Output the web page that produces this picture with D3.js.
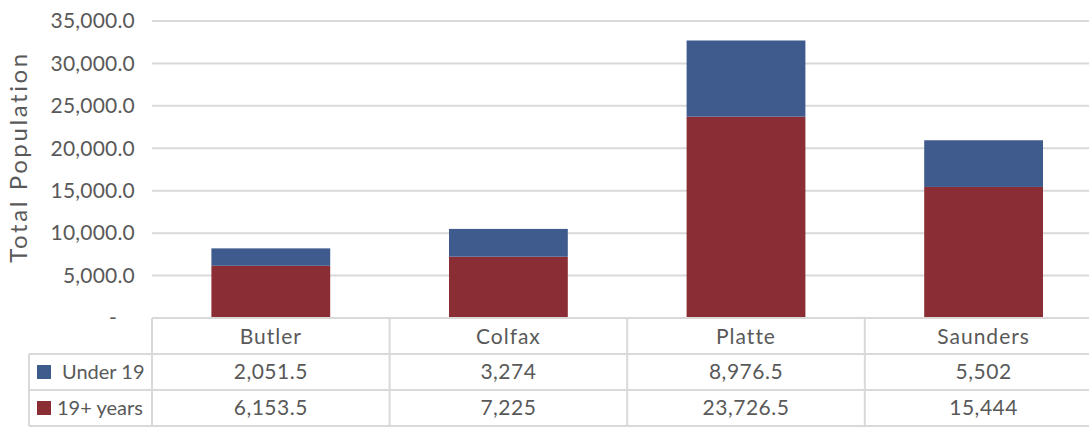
<!DOCTYPE html>
<html>
<head>
<meta charset="utf-8">
<script src="https://cdn.jsdelivr.net/npm/d3@7/dist/d3.min.js"></script>
<style>
	body { margin: 0; background: #fff; }
	text { font-family: Lato, 'Open Sans', sans-serif; fill: #595959; }
</style>
</head>
<body>
<div id="chart"></div>
<script>
var counties = ['Butler', 'Colfax', 'Platte', 'Saunders'];
var under19 = [2051.5, 3274, 8976.5, 5502];
var adults = [6153.5, 7225, 23726.5, 15444];
var yTicks = [0, 5000, 10000, 15000, 20000, 25000, 30000, 35000];
var seriesNames = ['Under 19', '19+ years'];
var colors = ['#3F5A8C', '#8B2D34'];

var width = 1089, height = 427;
var left = 152, colW = 237.6;
var plotTop = 21, base = 318, rowH = 36;

var svg = d3.select('#chart').append('svg')
	.attr('width', width)
	.attr('height', height);

var x = d3.scaleBand().domain(counties).range([left, left + colW * counties.length]).paddingInner(0.5).paddingOuter(0.25);
var y = d3.scaleLinear().domain([0, 35000]).range([base, plotTop]);

// gridlines
svg.append('g').selectAll('line').data(yTicks.slice(1)).enter().append('line')
	.attr('x1', left).attr('x2', width)
	.attr('y1', function(d) { return y(d); }).attr('y2', function(d) { return y(d); })
	.style('stroke', '#d9d9d9').style('stroke-width', 2);

// y tick labels
var fmt = d3.format(',.1f');
svg.append('g').selectAll('text').data(yTicks).enter().append('text')
	.attr('x', function(d) { return d ? 135 : 117; })
	.attr('y', function(d) { return y(d); })
	.attr('dy', '0.35em')
	.attr('text-anchor', 'end')
	.style('font-size', '21px')
	.style('letter-spacing', '0.2px')
	.text(function(d) { return d ? fmt(d) : '-'; });

svg.append('text')
	.attr('transform', 'translate(27,157) rotate(-90)')
	.attr('text-anchor', 'middle')
	.style('font-size', '24px')
	.style('letter-spacing', '2.6px')
	.text('Total Population');

// stacked bars
var rows = counties.map(function(c, i) { return { county: c, adults: adults[i], under19: under19[i] }; });
var stack = d3.stack().keys(['adults', 'under19'])(rows);
var stackColors = [colors[1], colors[0]];

svg.append('g').selectAll('g').data(stack).enter().append('g')
	.style('fill', function(d, i) { return stackColors[i]; })
	.selectAll('rect').data(function(d) { return d; }).enter().append('rect')
	.attr('x', function(d) { return x(d.data.county); })
	.attr('width', x.bandwidth())
	.attr('y', function(d) { return y(d[1]); })
	.attr('height', function(d) { return y(d[0]) - y(d[1]); });

// data table
var grid = svg.append('g').style('stroke', '#d9d9d9').style('stroke-width', 2);
var tableRight = left + colW * counties.length;
grid.append('line').attr('x1', left).attr('x2', tableRight).attr('y1', base).attr('y2', base);
[1, 2, 3].forEach(function(r) {
	grid.append('line').attr('x1', 29).attr('x2', tableRight).attr('y1', base + r * rowH).attr('y2', base + r * rowH);
});
grid.append('line').attr('x1', 29).attr('x2', 29).attr('y1', base + rowH).attr('y2', base + 3 * rowH);
d3.range(counties.length + 1).forEach(function(i) {
	grid.append('line').attr('x1', left + i * colW).attr('x2', left + i * colW).attr('y1', base).attr('y2', base + 3 * rowH);
});

var cx = function(c) { return x(c) + x.bandwidth() / 2; };

svg.append('g').selectAll('text').data(counties).enter().append('text')
	.attr('x', cx).attr('y', base + rowH / 2 + 1).attr('dy', '0.35em')
	.attr('text-anchor', 'middle').style('font-size', '21px').style('letter-spacing', '1px')
	.text(function(d) { return d; });

var vfmt = d3.format(',');
[under19, adults].forEach(function(vals, r) {
	var ry = base + (r + 1.5) * rowH;
	svg.append('rect').attr('x', 37).attr('y', ry - 7).attr('width', 14).attr('height', 14).style('fill', colors[r]);
	svg.append('text').attr('x', r ? 57 : 62).attr('y', ry).attr('dy', '0.35em')
		.style('font-size', '20px').text(seriesNames[r]);
	svg.append('g').selectAll('text').data(vals).enter().append('text')
		.attr('x', function(d, i) { return cx(counties[i]); }).attr('y', ry).attr('dy', '0.35em')
		.attr('text-anchor', 'middle').style('font-size', '21px').style('letter-spacing', '0.5px')
		.text(function(d) { return vfmt(d); });
});
</script>
</body>
</html>
